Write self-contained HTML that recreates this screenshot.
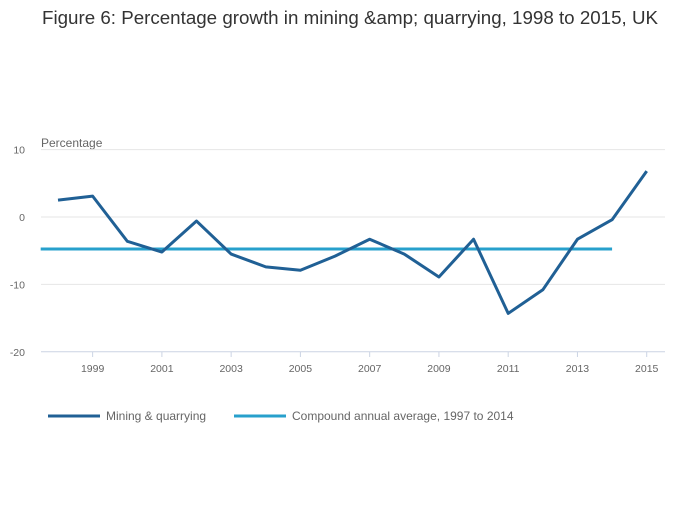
<!DOCTYPE html>
<html><head><meta charset="utf-8"><style>
body{margin:0;background:#fff;font-family:"Liberation Sans",sans-serif;}
svg text{font-family:"Liberation Sans",sans-serif;}
</style></head><body>
<svg id="chart" width="700" height="502">
<text x="42" y="24" textLength="616" lengthAdjust="spacingAndGlyphs" font-size="18" fill="#333">Figure 6: Percentage growth in mining &amp;amp; quarrying, 1998 to 2015, UK</text>
<text x="41" y="147" font-size="12" fill="#666">Percentage</text>
<g id="grid"></g><g id="xt"></g><g id="series"></g>
<g>
<line x1="48" y1="416" x2="100" y2="416" stroke="#206095" stroke-width="3"/>
<text x="106" y="420" font-size="12" fill="#666">Mining &amp; quarrying</text>
<line x1="234" y1="416" x2="286" y2="416" stroke="#27a0cc" stroke-width="3"/>
<text x="292" y="420" font-size="12" fill="#666">Compound annual average, 1997 to 2014</text>
</g>
</svg>
<script>
const years=[1998,1999,2000,2001,2002,2003,2004,2005,2006,2007,2008,2009,2010,2011,2012,2013,2014,2015];
const mining=[2.5,3.1,-3.6,-5.2,-0.6,-5.5,-7.4,-7.9,-5.8,-3.3,-5.5,-8.9,-3.3,-14.3,-10.8,-3.3,-0.4,6.8];
const avgValue=-4.75;
const avgRange=[1997.5,2014];
const yTicks=[10,0,-10,-20];
const xTicks=[1999,2001,2003,2005,2007,2009,2011,2013,2015];
const NS="http://www.w3.org/2000/svg";
const X=y=>58+(y-1998)*34.63;
const Y=v=>217-v*6.74;
function mk(t,a,p){const e=document.createElementNS(NS,t);for(const k in a)e.setAttribute(k,a[k]);p.appendChild(e);return e;}
const grid=document.getElementById('grid'),xt=document.getElementById('xt'),ser=document.getElementById('series');
yTicks.forEach(v=>{
  const l=mk('line',{x1:41,x2:665,y1:Y(v),y2:Y(v),stroke:v===-20?'#ccd4e4':'#e6e6e6','stroke-width':1},grid);
  
  
  const t=mk('text',{x:25,y:Y(v)+4,'text-anchor':'end','font-size':10.5,fill:'#666'},grid);
  t.textContent=v;
  
  
});
xTicks.forEach(y=>{
  const l=mk('line',{x1:X(y),x2:X(y),y1:352,y2:357,stroke:'#ccd4e4'},xt);
  
  
  const t=mk('text',{x:X(y),y:372,'text-anchor':'middle','font-size':10.5,fill:'#666'},xt);
  t.textContent=y;
  
  
});
const av=mk('line',{x1:X(avgRange[0]),x2:X(avgRange[1]),y1:Y(avgValue),y2:Y(avgValue),stroke:'#27a0cc','stroke-width':3},ser);


const p=mk('polyline',{points:years.map((y,i)=>X(y)+','+Y(mining[i])).join(' '),fill:'none',stroke:'#206095','stroke-width':3,'stroke-linejoin':'round'},ser);


</script>
</body></html>
